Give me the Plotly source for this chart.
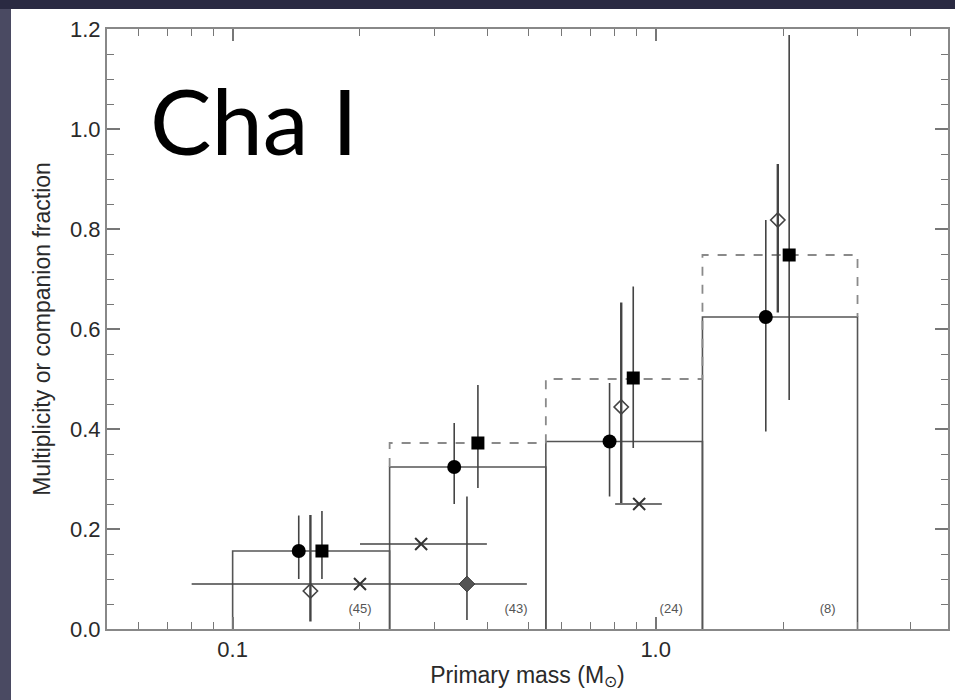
import plotly.graph_objects as go

# ---------------- data ----------------
bin_edges = [0.1, 0.235, 0.55, 1.29, 3.0]
frac_solid = [0.156, 0.324, 0.375, 0.624]
frac_dashed = [0.156, 0.372, 0.500, 0.748]
n_labels = ["(45)", "(43)", "(24)", "(8)"]
n_label_x = [0.200, 0.4675, 1.088, 2.55]
n_label_y = [0.038, 0.038, 0.038, 0.038]

circle_x = [0.1433, 0.334, 0.778, 1.821]
circle_y = [0.156, 0.324, 0.375, 0.624]
circle_hi = [0.227, 0.412, 0.492, 0.818]
circle_lo = [0.100, 0.250, 0.265, 0.395]

square_x = [0.1626, 0.380, 0.885, 2.068]
square_y = [0.156, 0.372, 0.502, 0.748]
square_hi = [0.236, 0.488, 0.685, 1.188]
square_lo = [0.100, 0.282, 0.362, 0.458]

odiam_x = [0.1527, 0.829, 1.944]
odiam_y = [0.076, 0.444, 0.818]
odiam_hi = [0.228, 0.653, 0.930]
odiam_lo = [0.015, 0.252, 0.633]

fdiam_x = [0.358]
fdiam_y = [0.090]
fdiam_hi = [0.265]
fdiam_lo = [0.018]

cross_x = [0.200, 0.279, 0.914]
cross_y = [0.090, 0.170, 0.250]
cross_xlo = [0.080, 0.200, 0.802]
cross_xhi = [0.496, 0.399, 1.034]

y_ticks = [0.0, 0.2, 0.4, 0.6, 0.8, 1.0, 1.2]
x_ticks = [0.1, 1.0]
x_ticktext = ["0.1", "1.0"]
x_minor = [0.06, 0.07, 0.08, 0.09, 0.2, 0.3, 0.4, 0.5, 0.6, 0.7, 0.8, 0.9, 2, 3, 4]

# ---------------- figure ----------------
fig = go.Figure()

# solid histogram: rectangles
sx, sy = [], []
for i, h in enumerate(frac_solid):
    e0, e1 = bin_edges[i], bin_edges[i + 1]
    sx += [e0, e0, e1, e1, None]
    sy += [0, h, h, 0, None]
fig.add_trace(go.Scatter(x=sx, y=sy, mode="lines",
                         line=dict(color="#555555", width=1.6),
                         hoverinfo="skip", showlegend=False))

# dashed histogram (bins 2-4)
dx, dy = [], []
for i in range(1, len(frac_dashed)):
    e0, e1 = bin_edges[i], bin_edges[i + 1]
    dx += [e0, e0, e1]
    dy += [frac_solid[i] if i == 1 else frac_dashed[i - 1], frac_dashed[i], frac_dashed[i]]
dx += [bin_edges[-1]]
dy += [frac_solid[-1]]
fig.add_trace(go.Scatter(x=dx, y=dy, mode="lines",
                         line=dict(color="#8a8a8a", width=1.8, dash="dash"),
                         hoverinfo="skip", showlegend=False))

err_col = "#444444"

def yerr(y, hi, lo, th):
    return dict(type="data", symmetric=False,
                array=[h - v for h, v in zip(hi, y)],
                arrayminus=[v - l for v, l in zip(y, lo)],
                color=err_col, thickness=th, width=0)

# crosses with horizontal bars
fig.add_trace(go.Scatter(
    x=cross_x, y=cross_y, mode="markers",
    marker=dict(symbol="x-thin", size=12, line=dict(color="#333333", width=2)),
    error_x=dict(type="data", symmetric=False,
                 array=[h - v for h, v in zip(cross_xhi, cross_x)],
                 arrayminus=[v - l for v, l in zip(cross_x, cross_xlo)],
                 color=err_col, thickness=1.6, width=0),
    showlegend=False))

# filled grey diamond
fig.add_trace(go.Scatter(
    x=fdiam_x, y=fdiam_y, mode="markers",
    marker=dict(symbol="diamond", size=12, color="#555555",
                line=dict(color="#333333", width=1)),
    error_y=yerr(fdiam_y, fdiam_hi, fdiam_lo, 1.6),
    showlegend=False))

# open diamonds
fig.add_trace(go.Scatter(
    x=odiam_x, y=odiam_y, mode="markers",
    marker=dict(symbol="diamond-open", size=11, color="#444444",
                line=dict(color="#444444", width=1.6)),
    error_y=yerr(odiam_y, odiam_hi, odiam_lo, 2.4),
    showlegend=False))

# filled circles
fig.add_trace(go.Scatter(
    x=circle_x, y=circle_y, mode="markers",
    marker=dict(symbol="circle", size=14, color="#000000"),
    error_y=yerr(circle_y, circle_hi, circle_lo, 1.6),
    showlegend=False))

# filled squares
fig.add_trace(go.Scatter(
    x=square_x, y=square_y, mode="markers",
    marker=dict(symbol="square", size=13, color="#000000"),
    error_y=yerr(square_y, square_hi, square_lo, 1.6),
    showlegend=False))

# sample size labels
fig.add_trace(go.Scatter(
    x=n_label_x, y=n_label_y, mode="text", text=n_labels,
    textfont=dict(family="Liberation Sans, Arial, sans-serif", size=13, color="#555555"),
    hoverinfo="skip", showlegend=False))

# layout geometry
L, R, T, B = 107, 7, 29, 71
W, H = 955, 700
pw, ph = W - L - R, H - T - B

def px2paper_x(px):
    return (px - L) / pw

def px2paper_y(py):
    return (H - B - py) / ph

shapes = [
    # white slide area
    dict(type="rect", xref="paper", yref="paper", layer="below",
         x0=px2paper_x(11), x1=px2paper_x(W + 5),
         y0=px2paper_y(H + 5), y1=px2paper_y(9),
         fillcolor="white", line=dict(width=0)),
    # left lighter strip
    dict(type="rect", xref="paper", yref="paper", layer="below",
         x0=px2paper_x(-5), x1=px2paper_x(11),
         y0=px2paper_y(H + 5), y1=px2paper_y(9),
         fillcolor="#4a4a62", line=dict(width=0)),
]

tick_font = dict(family="Liberation Sans, Arial, sans-serif", size=22, color="#2a2a2a")
title_font = dict(family="Liberation Sans, Arial, sans-serif", size=23, color="#2a2a2a")

fig.update_layout(
    width=W, height=H,
    margin=dict(l=L, r=R, t=T, b=B, autoexpand=False),
    paper_bgcolor="#2a2a42",
    plot_bgcolor="white",
    shapes=shapes,
    xaxis=dict(
        type="log", range=[-1.297, 0.691],
        tickvals=x_ticks, ticktext=x_ticktext,
        ticks="inside", ticklen=12, tickwidth=1.5, tickcolor="#777777",
        minor=dict(tickvals=x_minor, ticks="inside", ticklen=7,
                   tickwidth=1.3, tickcolor="#777777", showgrid=False),
        showline=True, linecolor="#888888", linewidth=2, mirror="allticks",
        showgrid=False, zeroline=False, automargin=False,
        tickfont=tick_font,
        title=dict(text="Primary mass (M<sub>⊙</sub>)", font=title_font, standoff=5),
    ),
    yaxis=dict(
        range=[0, 1.2], tickvals=y_ticks, tickformat=".1f",
        ticks="inside", ticklen=13, tickwidth=1.5, tickcolor="#777777",
        minor=dict(dtick=0.05, ticks="inside", ticklen=7,
                   tickwidth=1.3, tickcolor="#777777", showgrid=False),
        showline=True, linecolor="#888888", linewidth=2, mirror="allticks",
        showgrid=False, zeroline=False, automargin=False,
        tickfont=tick_font,
        title=dict(text="Multiplicity or companion fraction", font=title_font, standoff=13),
    ),
    annotations=[
        dict(text="Cha I", xref="paper", yref="paper",
             x=px2paper_x(148), y=px2paper_y(119), xanchor="left", yanchor="middle",
             showarrow=False,
             font=dict(family="Lato, Open Sans, sans-serif", size=92, color="#000000")),
    ],
)

fig.write_html(
    "out.html",
    config={"displayModeBar": False},
    post_script="document.body.style.margin='0px';document.body.style.overflow='hidden';"
                "document.body.style.background='#2a2a42';",
)
